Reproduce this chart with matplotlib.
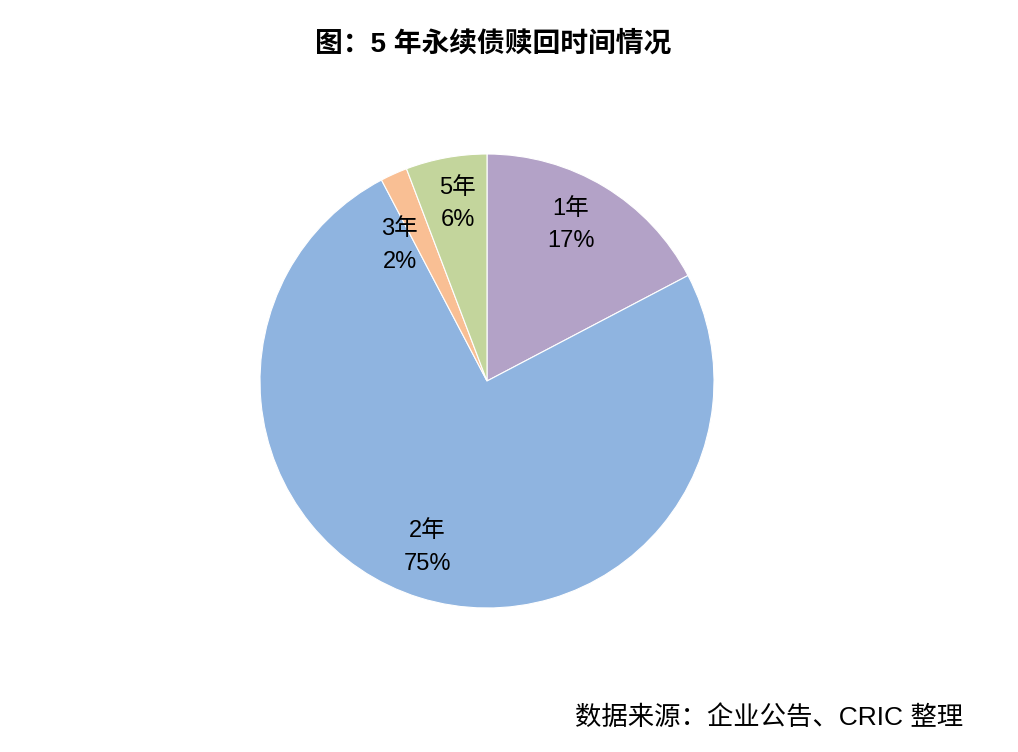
import numpy as np
import matplotlib
matplotlib.use("Agg")
import matplotlib.pyplot as plt

plt.rcParams['font.family'] = ['Liberation Sans', 'Noto Sans CJK SC', 'DejaVu Sans']

categories = ["1年", "2年", "3年", "5年"]
counts = [9, 39, 1, 3]
colors = ["#B3A2C7", "#8FB4E0", "#F9BF94", "#C3D59C"]
label_dist = [0.78, 0.78, 0.71, 0.79]
label_shift = [3, -2.5, 8.5, -1]   # degrees, to nudge labels like the original

fig = plt.figure(figsize=(10.18, 7.52), dpi=100)
ax = fig.add_axes([260 / 1018, 144 / 752, 454 / 1018, 454 / 752])

wedges, _ = ax.pie(counts, colors=colors, startangle=90, counterclock=False,
                   radius=1, wedgeprops=dict(edgecolor="white", linewidth=0.8))
ax.set_xlim(-1, 1)
ax.set_ylim(-1, 1)
ax.set_aspect("equal")
ax.axis("off")

total = sum(counts)
for w, cat, c, d, s in zip(wedges, categories, counts, label_dist, label_shift):
    mid = np.deg2rad((w.theta1 + w.theta2) / 2 + s)
    pct = round(c / total * 100)
    ax.text(d * np.cos(mid), d * np.sin(mid), f"{cat}\n{pct}%",
            ha="center", va="center", fontsize=17, linespacing=1.6)

fig.text(493 / 1018, 1 - 44 / 752, "图：5 年永续债赎回时间情况", ha="center", va="center",
         fontsize=20, fontweight="bold")
fig.text(963 / 1018, 1 - 718 / 752, "数据来源：企业公告、CRIC 整理", ha="right", va="center",
         fontsize=19)

fig.savefig("out.png", dpi=100)
